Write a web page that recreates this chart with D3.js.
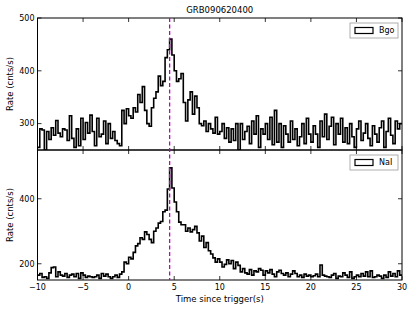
<!DOCTYPE html>
<html><head><meta charset="utf-8">
<script src="https://cdn.jsdelivr.net/npm/d3@7"></script>
<style>body{margin:0;background:#fff}text{font-family:"DejaVu Sans",sans-serif;fill:#000}</style>
</head><body><svg id="c" width="415" height="312"></svg>
<script>
const title = "GRB090620400";
const binStart = -10, binWidth = 0.25;
const bgoRates = [
255,290,288,250, 285,270,292,278, 306,282,275,290, 288,268,315,272, 255,290,258,310,
270,302,282,316, 285,258,310,275, 280,305,262,300, 272,285,268,262, 258,325,300,328,
315,310,330,322, 355,340,370,325, 300,295,330,348, 360,390,372,380, 425,440,460,430,
400,380,385,395, 340,305,345,360, 318,352,330,300, 296,305,285,300, 290,282,312,280,
285,300,272,292, 265,290,268,300, 250,300,270,285, 295,262,305,280, 315,255,290,280,
300,270,312,260, 325,265,300,255, 296,280,265,305, 270,290,258,275, 300,262,310,280,
265,296,280,255, 305,275,318,270, 295,312,260,300, 280,310,265,292, 262,300,275,255,
290,305,268,282, 300,272,258,296, 280,265,292,305, 255,285,310,278, 262,305,290,300];
const naiRates = [
165,170,158,160, 155,172,188,190, 160,175,165,162, 170,158,165,168, 160,170,155,172,
165,158,162,160, 158,160,165,155, 170,162,168,160, 155,160,165,158, 168,175,205,200,
220,215,235,255, 262,280,275,298, 290,275,265,300, 310,325,330,360, 365,430,495,433,
390,360,328,320, 320,300,310,298, 305,315,295,270, 285,250,265,240, 230,218,205,215,
205,190,198,212, 200,210,185,205, 195,175,185,172, 168,182,165,178, 175,185,180,165,
178,172,182,168, 160,175,180,170, 165,172,160,168, 178,170,160,165, 158,168,162,165,
160,163,168,160, 196,165,162,160, 158,165,170,155, 162,160,172,165, 158,175,155,160,
165,160,170,162, 175,160,178,158, 160,165,162,155, 165,158,175,162, 170,160,178,165];
const xTicks = [-10,-5,0,5,10,15,20,25,30];
const bgoTicks = [300,400,500];
const naiTicks = [200,400];
const triggerPeak = 4.5;
const legendLabels = ["Bgo","NaI"];

const svg = d3.select("#c");
const L = 37.5, R = 402;
const x = d3.scaleLinear().domain([-10,30]).range([L,R]);
const panels = [
  {data:bgoRates, domain:[250,500], top:18, bottom:150, ticks:bgoTicks, label:legendLabels[0]},
  {data:naiRates, domain:[150,550], top:150, bottom:280, ticks:naiTicks, label:legendLabels[1]}
];
const fmt = d => d < 0 ? "\u2212" + Math.abs(d) : String(d);

panels.forEach((p,pi) => {
  const y = d3.scaleLinear().domain(p.domain).range([p.bottom,p.top]);
  const cid = "clip"+pi;
  svg.append("clipPath").attr("id",cid).append("rect")
    .attr("x",L).attr("y",p.top).attr("width",R-L).attr("height",p.bottom-p.top);
  const pts = p.data.map((v,i)=>[binStart+i*binWidth, v]);
  pts.push([binStart+p.data.length*binWidth, p.data[p.data.length-1]]);
  const line = d3.line().x(d=>x(d[0])).y(d=>y(d[1])).curve(d3.curveStepAfter);
  svg.append("path").attr("d",line(pts)).attr("fill","none").attr("stroke","#000")
    .attr("stroke-width",1.6).attr("clip-path",`url(#${cid})`);
  // ticks inside, four sides
  const tl = 4;
  const g = svg.append("g");
  xTicks.forEach(t=>{
    g.append("line").attr("x1",x(t)).attr("x2",x(t)).attr("y1",p.bottom).attr("y2",p.bottom-tl).attr("stroke","#000").attr("stroke-width",0.8);
    g.append("line").attr("x1",x(t)).attr("x2",x(t)).attr("y1",p.top).attr("y2",p.top+tl).attr("stroke","#000").attr("stroke-width",0.8);
  });
  p.ticks.forEach(t=>{
    g.append("line").attr("x1",L).attr("x2",L+tl).attr("y1",y(t)).attr("y2",y(t)).attr("stroke","#000").attr("stroke-width",0.8);
    g.append("line").attr("x1",R).attr("x2",R-tl).attr("y1",y(t)).attr("y2",y(t)).attr("stroke","#000").attr("stroke-width",0.8);
    g.append("text").attr("x",L-3).attr("y",y(t)).attr("dy","0.35em").attr("text-anchor","end")
      .attr("font-size",8).text(t);
  });
  // legend
  const lg = svg.append("g").attr("transform",`translate(${R-52},${p.top+5})`);
  lg.append("rect").attr("x",0).attr("y",0).attr("width",48).attr("height",15)
    .attr("fill","#fff").attr("stroke","#999").attr("stroke-width",0.8);
  lg.append("rect").attr("x",5).attr("y",4.5).attr("width",18).attr("height",6)
    .attr("fill","none").attr("stroke","#000").attr("stroke-width",1.2);
  lg.append("text").attr("x",29).attr("y",7.5).attr("dy","0.35em").attr("font-size",8).text(p.label);
  // frame
  svg.append("rect").attr("x",L).attr("y",p.top).attr("width",R-L).attr("height",p.bottom-p.top)
    .attr("fill","none").attr("stroke","#000").attr("stroke-width",1);
  svg.append("text").attr("transform",`translate(13,${(p.top+p.bottom)/2}) rotate(-90)`)
    .attr("text-anchor","middle").attr("font-size",8.5).text("Rate (cnts/s)");
});
// x tick labels
xTicks.forEach(t=>{
  svg.append("text").attr("x",x(t)).attr("y",290).attr("text-anchor","middle").attr("font-size",8).text(fmt(t));
});
svg.append("text").attr("x",(L+R)/2).attr("y",302).attr("text-anchor","middle").attr("font-size",8.5).text("Time since trigger(s)");
svg.append("text").attr("x",(L+R)/2).attr("y",13).attr("text-anchor","middle").attr("font-size",8.5).text(title);
// trigger peak dashed line
svg.append("line").attr("x1",x(triggerPeak)).attr("x2",x(triggerPeak)).attr("y1",18).attr("y2",280)
  .attr("stroke","#bf00bf").attr("stroke-width",1.3).attr("stroke-dasharray","4,2.5");
</script></body></html>
